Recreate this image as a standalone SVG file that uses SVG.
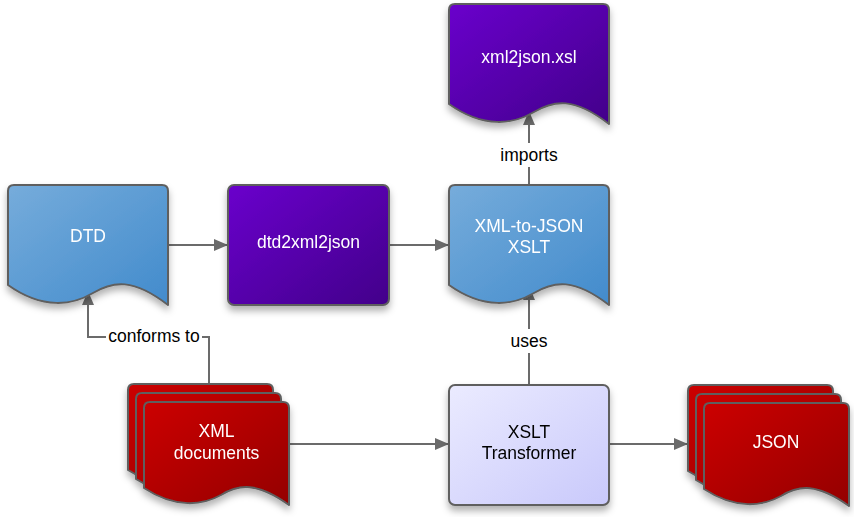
<svg xmlns="http://www.w3.org/2000/svg" width="854" height="517" viewBox="0 0 854 517">
<defs>
<linearGradient id="gBlue" x1="0" y1="0" x2="1" y2="1"><stop offset="0" stop-color="#76acdb"/><stop offset="1" stop-color="#428bcc"/></linearGradient>
<linearGradient id="gPurple" x1="0" y1="0" x2="1" y2="1"><stop offset="0" stop-color="#6a00cc"/><stop offset="1" stop-color="#42008a"/></linearGradient>
<linearGradient id="gRed" x1="0" y1="0" x2="1" y2="1"><stop offset="0" stop-color="#cc0000"/><stop offset="1" stop-color="#940000"/></linearGradient>
<linearGradient id="gLav" x1="0" y1="0" x2="1" y2="1"><stop offset="0" stop-color="#ebebff"/><stop offset="1" stop-color="#c9c9fb"/></linearGradient>
<filter id="sh" x="-20%" y="-20%" width="140%" height="150%"><feDropShadow dx="0" dy="5" stdDeviation="3.5" flood-color="#000" flood-opacity="0.3"/></filter>
<marker id="arr" markerWidth="14" markerHeight="12" refX="13" refY="6" orient="auto" markerUnits="userSpaceOnUse"><path d="M0,0 L14,6 L0,12 Z" fill="#6b6b6b"/></marker>
<path id="doc" d="M0,6 Q0,0 6,0 H154 Q160,0 160,6 V120 C125,93 105,96 85,108 C65,120 35,125 0,100 Z"/>
<path id="sheet" d="M0,6 Q0,0 6,0 H139 Q145,0 145,6 V103 C113,80 95,82 77,93 C59,103 32,107 0,86 Z"/>
</defs>
<style>
.st{stroke:#5e5e5e;stroke-width:2;stroke-linejoin:round}
.tw{fill:#fff;font-family:"Liberation Sans",Arial,sans-serif;font-size:17.5px;text-anchor:middle}
.tb{fill:#000;font-family:"Liberation Sans",Arial,sans-serif;font-size:17.5px;text-anchor:middle}
.ln{fill:none;stroke:#6b6b6b;stroke-width:2}
</style>
<g id="connectors">
<path class="ln" d="M169,245 H227" marker-end="url(#arr)"/>
<path class="ln" d="M389,245 H448" marker-end="url(#arr)"/>
<path class="ln" d="M529,185 V112" marker-end="url(#arr)"/>
<path class="ln" d="M529,385 V287" marker-end="url(#arr)"/>
<path class="ln" d="M209,384 V337 H88 V292" marker-end="url(#arr)"/>
<path class="ln" d="M289,444 H448" marker-end="url(#arr)"/>
<path class="ln" d="M609,444 H687" marker-end="url(#arr)"/>
<rect x="497" y="143" width="64" height="24" fill="#fff"/>
<text class="tb" x="529" y="161">imports</text>
<rect x="507" y="329" width="44" height="24" fill="#fff"/>
<text class="tb" x="529" y="347">uses</text>
<rect x="106" y="324" width="96" height="24" fill="#fff"/>
<text class="tb" x="154" y="342">conforms to</text>
</g>
<g id="dtd" filter="url(#sh)"><use href="#doc" x="8" y="185" class="st" fill="url(#gBlue)"/><text class="tw" x="88" y="242">DTD</text></g>
<g id="dtd2xml2json" filter="url(#sh)"><rect x="228" y="185" width="161" height="120" rx="6" class="st" fill="url(#gPurple)"/><text class="tw" x="308.5" y="248">dtd2xml2json</text></g>
<g id="xml-to-json" filter="url(#sh)"><use href="#doc" x="449" y="185" class="st" fill="url(#gBlue)"/><text class="tw" x="529" y="232">XML-to-JSON</text><text class="tw" x="529" y="253">XSLT</text></g>
<g id="xml2json-xsl" filter="url(#sh)"><use href="#doc" x="449" y="4" class="st" fill="url(#gPurple)"/><text class="tw" x="529" y="63">xml2json.xsl</text></g>
<g id="xslt-transformer" filter="url(#sh)"><rect x="449" y="385" width="160" height="120" rx="6" class="st" fill="url(#gLav)"/><text class="tb" x="529" y="438">XSLT</text><text class="tb" x="529" y="459">Transformer</text></g>
<g id="xml-documents" filter="url(#sh)"><use href="#sheet" x="128" y="384" class="st" fill="url(#gRed)"/><use href="#sheet" x="136" y="393" class="st" fill="url(#gRed)"/><use href="#sheet" x="144" y="402" class="st" fill="url(#gRed)"/><text class="tw" x="216.5" y="437">XML</text><text class="tw" x="216.5" y="459">documents</text></g>
<g id="json" filter="url(#sh)"><use href="#sheet" x="688" y="385" class="st" fill="url(#gRed)"/><use href="#sheet" x="696" y="394" class="st" fill="url(#gRed)"/><use href="#sheet" x="704" y="403" class="st" fill="url(#gRed)"/><text class="tw" x="776" y="448">JSON</text></g>
</svg>
